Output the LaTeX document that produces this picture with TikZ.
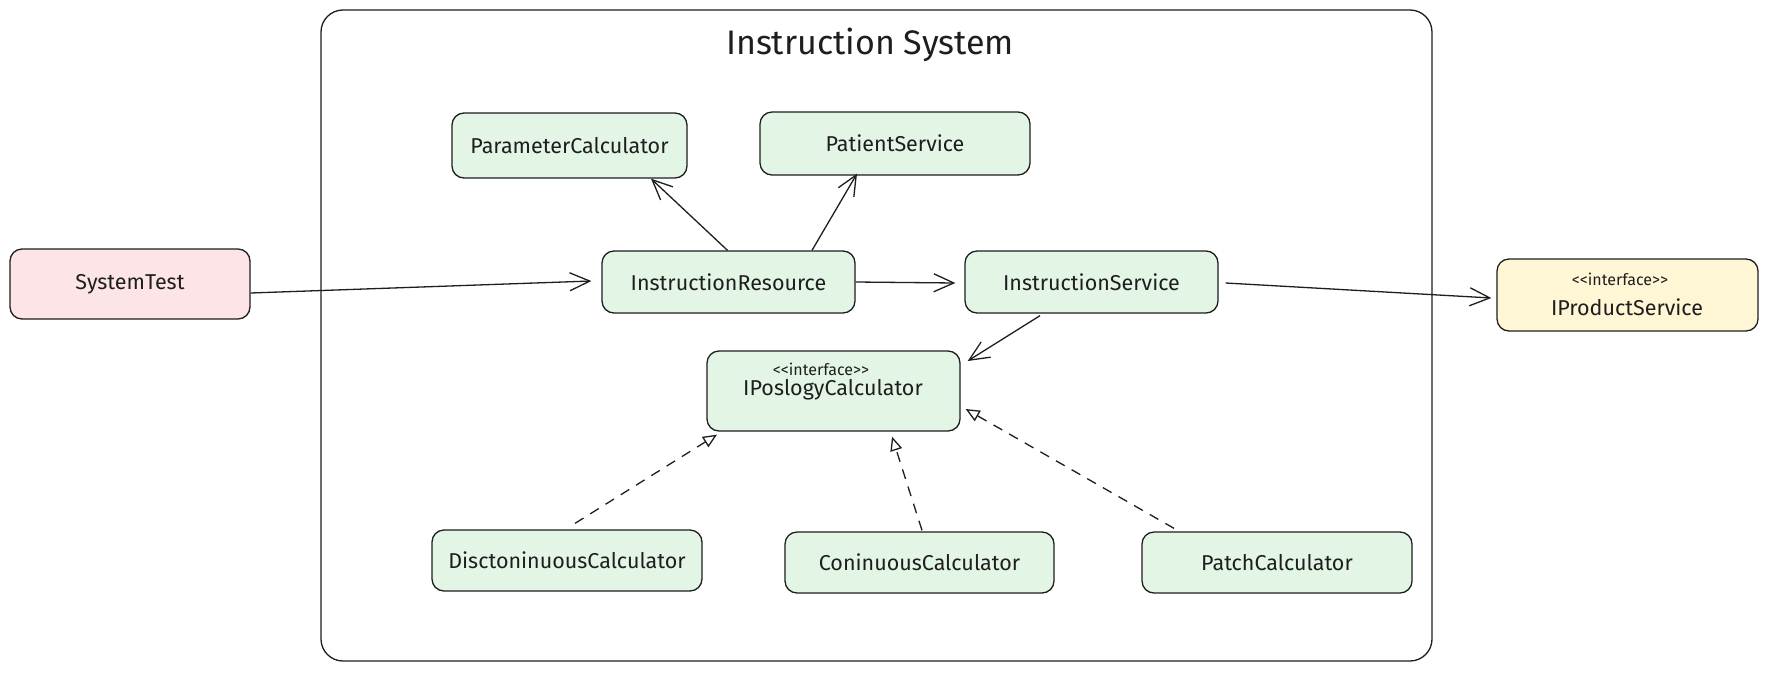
\documentclass[tikz,border=0pt]{standalone}
\usepackage{fontspec}
\setmainfont{Fira Sans}
\usetikzlibrary{arrows.meta,calc}
\definecolor{ink}{HTML}{1E1E1E}
\definecolor{gfill}{HTML}{E3F6E6}
\definecolor{pfill}{HTML}{FDE4E6}
\definecolor{yfill}{HTML}{FFF6D6}
\tikzset{
 box/.style={draw=ink, line width=1.3pt, rounded corners=12pt, fill=gfill, font=\fontsize{21.5}{24}\selectfont, text=ink, inner sep=0pt},
 lbl/.style={font=\fontsize{21.5}{24}\selectfont, text=ink, inner sep=0pt},
 stereo/.style={font=\fontsize{16}{18}\selectfont, text=ink, inner sep=0pt},
 flow/.style={draw=ink, line width=1.3pt, -{Straight Barb[length=20pt,width=18pt,line width=1.3pt]}},
 impl/.style={draw=ink, line width=1.3pt, dash pattern=on 10pt off 8pt, -{Triangle[open,length=14pt,width=12pt,line width=1.3pt]}},
}
\begin{document}
\begin{tikzpicture}[x=1pt,y=-1pt]
\useasboundingbox[fill=white] (0,0) rectangle (1768,672);
% container
\node[draw=ink,line width=1.3pt,rounded corners=22pt,minimum width=1111pt,minimum height=651pt] (sys) at (876.5,335.5) {};
\node[font=\fontsize{34}{38}\selectfont, text=ink] (title) at (870,45) {Instruction System};
% boxes
\node[box, fill=pfill, minimum width=240pt, minimum height=70pt] (st) at (130,284) {SystemTest};
\node[box, minimum width=235pt, minimum height=65pt] (pc) at (569.5,145.5) {ParameterCalculator};
\node[box, minimum width=270pt, minimum height=63pt] (ps) at (895,143.5) {PatientService};
\node[box, minimum width=253pt, minimum height=62pt] (ir) at (728.5,282) {InstructionResource};
\node[box, minimum width=253pt, minimum height=62pt] (is) at (1091.5,282) {InstructionService};
\node[box, fill=yfill, minimum width=261pt, minimum height=72pt] (ips) at (1627.5,295) {};
\node[stereo] (ipsS) at (1620,279) {<{}<interface>{}>};
\node[lbl] (ipsN) at (1627,307) {IProductService};
\node[box, minimum width=253pt, minimum height=80pt] (ipc) at (833.5,391) {};
\node[stereo] (ipcS) at (821,369) {<{}<interface>{}>};
\node[lbl] (ipcN) at (833,390) {IPoslogyCalculator};
\node[box, minimum width=270pt, minimum height=61pt] (dc) at (567,560.5) {DisctoninuousCalculator};
\node[box, minimum width=269pt, minimum height=61pt] (cc) at (919.5,562.5) {ConinuousCalculator};
\node[box, minimum width=270pt, minimum height=61pt] (ptc) at (1277,562.5) {PatchCalculator};
% connectors
\draw[flow] ($(st.east)+(0,9)$) -- ($(ir.west)+(-10,-1)$);
\draw[flow] (ir.east) -- ($(is.west)+(-9,1)$);
\draw[flow] ($(is.east)+(7,1)$) -- ($(ips.west)+(-5,3)$);
\draw[flow] ($(ir.north)+(-1,0)$) -- ($(pc.south)+(81.5,0)$);
\draw[flow] ($(ir.north)+(83.5,0)$) -- ($(ps.south)+(-38,-2)$);
\draw[flow] ($(is.south)+(-51.5,2)$) -- ($(ipc.east)+(7,-30)$);
\draw[impl] ($(dc.north)+(8,-6)$) -- ($(ipc.south)+(-116.5,3)$);
\draw[impl] ($(cc.north)+(2.5,-1)$) -- ($(ipc.south)+(58.5,5)$);
\draw[impl] ($(ptc.north)+(-103,-3)$) -- ($(ipc.east)+(5,18)$);
\end{tikzpicture}
\end{document}
